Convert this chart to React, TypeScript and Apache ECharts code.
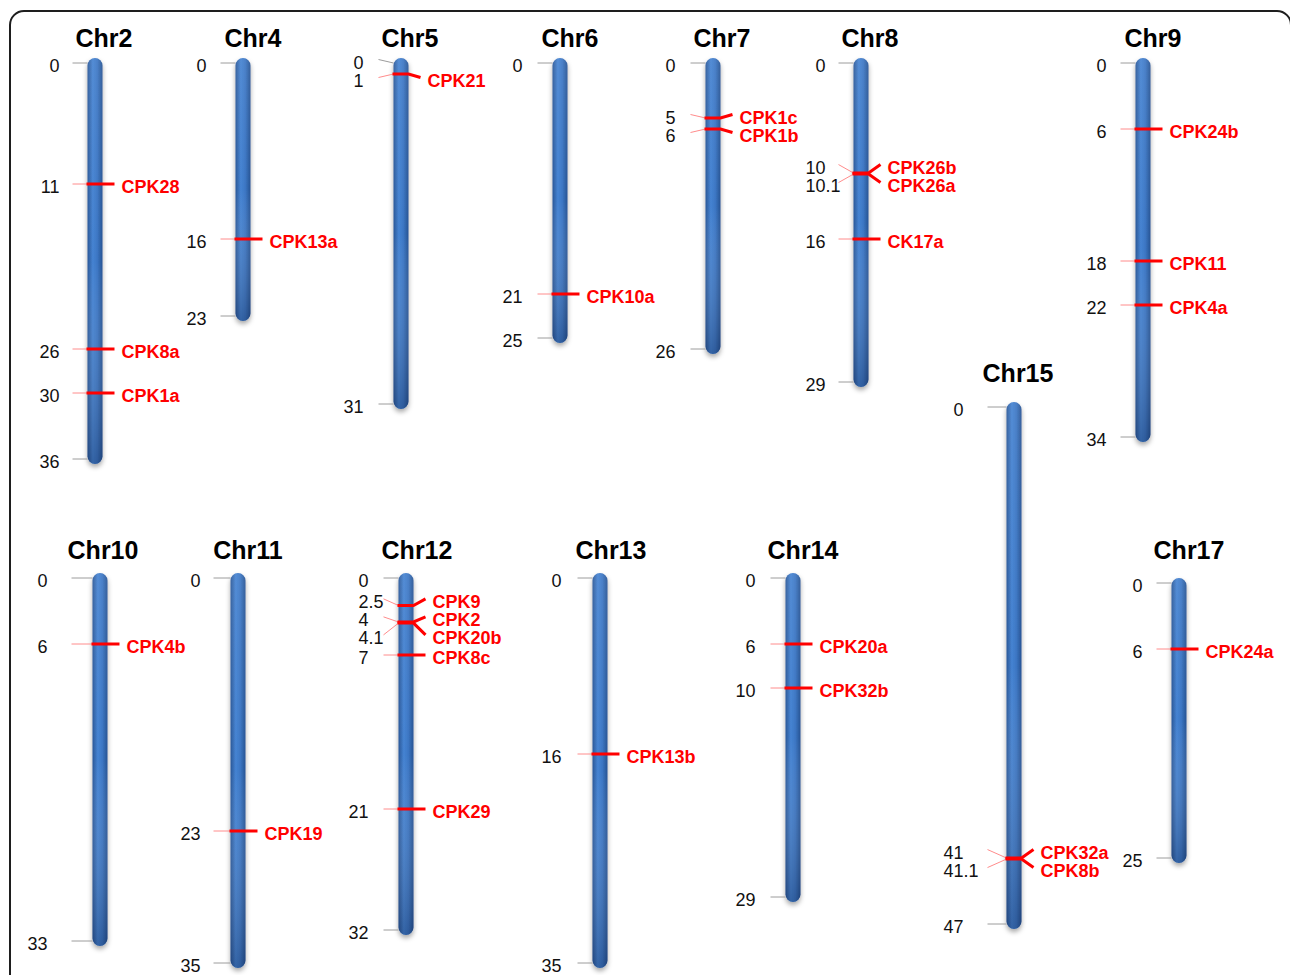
import React, { useEffect, useRef } from "react";
import * as echarts from "echarts";

// ---------- data ----------
const chromosomes = ["Chr2", "Chr4", "Chr5", "Chr6", "Chr7", "Chr8", "Chr9", "Chr10", "Chr11", "Chr12", "Chr13", "Chr14", "Chr15", "Chr17"];
const lengths = [36, 23, 31, 25, 26, 29, 34, 33, 35, 32, 35, 29, 47, 25];
const markerPositions: number[][] = [
  [11, 26, 30],
  [16],
  [1],
  [21],
  [5, 6],
  [10, 10.1, 16],
  [6, 18, 22],
  [6],
  [23],
  [2.5, 4, 4.1, 7, 21],
  [16],
  [6, 10],
  [41, 41.1],
  [6],
];
const markerNames: string[][] = [
  ["CPK28", "CPK8a", "CPK1a"],
  ["CPK13a"],
  ["CPK21"],
  ["CPK10a"],
  ["CPK1c", "CPK1b"],
  ["CPK26b", "CPK26a", "CK17a"],
  ["CPK24b", "CPK11", "CPK4a"],
  ["CPK4b"],
  ["CPK19"],
  ["CPK9", "CPK2", "CPK20b", "CPK8c", "CPK29"],
  ["CPK13b"],
  ["CPK20a", "CPK32b"],
  ["CPK32a", "CPK8b"],
  ["CPK24a"],
];

// ---------- layout ----------
const centerX = [95, 243, 401, 560, 713, 861, 1143, 100, 238, 406, 600, 793, 1014, 1179];
const zeroY = [63, 63, 63, 63, 63, 63, 63, 578, 578, 578, 578, 578, 407, 583];
const titleX = [104, 253, 410, 570, 722, 870, 1153, 103, 248, 417, 611, 803, 1018, 1189];
const titleY = [38, 38, 38, 38, 38, 38, 38, 550, 550, 550, 550, 550, 373, 550];
const numberGap = [28, 29, 30, 30, 30, 28, 29, 45, 30, 30, 31, 30, 43, 29];
const tickLen = [15, 15, 15, 15, 15, 15, 15, 21, 17, 15, 15, 15, 19, 15];
const PX_PER_UNIT = 11;
const BAR_W = 15;
const LABEL_GAP = 18;
const FONT = "'Liberation Sans', Arial, Helvetica, sans-serif";

type Tick = { pos: number; name: string; marker: boolean };

function buildTicks(i: number): Tick[] {
  const t: Tick[] = [{ pos: 0, name: "", marker: false }];
  markerPositions[i].forEach((p, k) => t.push({ pos: p, name: markerNames[i][k], marker: true }));
  t.push({ pos: lengths[i], name: "", marker: false });
  return t;
}

function spread(ys: number[], gap: number): number[] {
  type C = { ids: number[]; mean: number };
  const clusters: C[] = [];
  const span = (c: C) => ((c.ids.length - 1) / 2) * gap;
  ys.forEach((y, idx) => {
    clusters.push({ ids: [idx], mean: y });
    while (clusters.length > 1) {
      const b = clusters[clusters.length - 1];
      const a = clusters[clusters.length - 2];
      if (b.mean - span(b) - (a.mean + span(a)) < gap) {
        const ids = a.ids.concat(b.ids);
        const mean = ids.reduce((s, k) => s + ys[k], 0) / ids.length;
        clusters.splice(clusters.length - 2, 2, { ids, mean });
      } else break;
    }
  });
  const out: number[] = new Array(ys.length);
  clusters.forEach((c) => {
    const start = c.mean - span(c);
    c.ids.forEach((k, j) => (out[k] = start + j * gap));
  });
  return out;
}

export default function App() {
  const ref = useRef<HTMLDivElement>(null);
  useEffect(() => {
    if (!ref.current) return;
    const chart = echarts.init(ref.current, undefined, { renderer: "svg" });

    const grids: any[] = [];
    const xAxes: any[] = [];
    const yAxes: any[] = [];
    const series: any[] = [];

    chromosomes.forEach((name, i) => {
      const len = lengths[i];
      grids.push({
        left: centerX[i] - 20,
        width: 40,
        top: zeroY[i],
        height: len * PX_PER_UNIT,
        containLabel: false,
      });
      xAxes.push({ gridIndex: i, type: "value", min: -1, max: 1, show: false });
      yAxes.push({ gridIndex: i, type: "value", inverse: true, min: 0, max: len, show: false });

      series.push({
        type: "custom",
        name: name,
        xAxisIndex: i,
        yAxisIndex: i,
        clip: false,
        silent: true,
        z: 2,
        data: [[0, len]],
        renderItem: (params: any, api: any) => {
          const p0 = api.coord([0, 0]);
          const p1 = api.coord([0, api.value(1)]);
          const cx = p0[0];
          const shape = {
            x: cx - BAR_W / 2,
            y: p0[1] - 5,
            width: BAR_W,
            height: p1[1] - p0[1] + 10,
            r: BAR_W / 2,
          };
          return {
            type: "group",
            children: [
              {
                type: "rect",
                shape,
                style: {
                  fill: new echarts.graphic.LinearGradient(0, 0, 1, 0, [
                    { offset: 0, color: "#2a5697" },
                    { offset: 0.35, color: "#4583d2" },
                    { offset: 0.65, color: "#3b76c4" },
                    { offset: 1, color: "#285393" },
                  ]),
                  shadowBlur: 5,
                  shadowOffsetY: 3,
                  shadowColor: "rgba(0,0,0,0.35)",
                },
              },
              {
                type: "rect",
                shape,
                style: {
                  fill: new echarts.graphic.LinearGradient(0, 0, 0, 1, [
                    { offset: 0, color: "rgba(255,255,255,0.08)" },
                    { offset: 0.5, color: "rgba(255,255,255,0)" },
                    { offset: 1, color: "rgba(10,25,60,0.3)" },
                  ]),
                },
              },
              {
                type: "text",
                style: {
                  text: name,
                  x: titleX[i],
                  y: titleY[i],
                  align: "center",
                  verticalAlign: "middle",
                  fill: "#000",
                  font: `bold 25px ${FONT}`,
                },
              },
            ],
          };
        },
      });

      const ticks = buildTicks(i);
      series.push({
        type: "custom",
        name: name + " loci",
        xAxisIndex: i,
        yAxisIndex: i,
        clip: false,
        silent: true,
        z: 3,
        data: ticks.map((t) => ({ value: [0, t.pos], name: t.name })),
        renderItem: (params: any, api: any) => {
          const idx = params.dataIndex;
          const ys = ticks.map((t) => api.coord([0, t.pos])[1]);
          const lab = spread(ys, LABEL_GAP);
          const cx = api.coord([0, 0])[0];
          const bl = cx - BAR_W / 2;
          const br = cx + BAR_W / 2;
          const t = ticks[idx];
          const y = api.coord([0, api.value(1)])[1];
          const ly = lab[idx];
          const str = String(t.pos);
          const parts = str.split(".");
          const nx = bl - numberGap[i];
          const children: any[] = [
            {
              type: "line",
              shape: { x1: bl - tickLen[i], y1: ly, x2: bl, y2: y },
              style: { stroke: t.marker ? "#ff8c8c" : "#9c9c9c", lineWidth: 1 },
            },
            {
              type: "text",
              style: {
                text: parts[0],
                x: nx,
                y: ly + 3,
                align: "right",
                verticalAlign: "middle",
                fill: "#111",
                font: `18px ${FONT}`,
              },
            },
          ];
          if (parts.length > 1) {
            children.push({
              type: "text",
              style: {
                text: "." + parts[1],
                x: nx,
                y: ly + 3,
                align: "left",
                verticalAlign: "middle",
                fill: "#111",
                font: `18px ${FONT}`,
              },
            });
          }
          if (t.marker) {
            children.push({
              type: "polyline",
              shape: { points: [[bl - 1, y], [br, y], [br + 12, ly]] },
              style: { stroke: "#ff0000", lineWidth: 3, fill: "none" },
            });
            children.push({
              type: "text",
              style: {
                text: t.name,
                x: br + 19,
                y: ly + 3,
                align: "left",
                verticalAlign: "middle",
                fill: "#ff0000",
                font: `bold 18px ${FONT}`,
              },
            });
          }
          return { type: "group", children };
        },
      });
    });

    chart.setOption({
      animation: false,
      backgroundColor: "#ffffff",
      grid: grids,
      xAxis: xAxes,
      yAxis: yAxes,
      series,
      graphic: [
        {
          type: "rect",
          silent: true,
          z: -10,
          shape: { x: 10, y: 11, width: 1281, height: 1000, r: 14 },
          style: { fill: "none", stroke: "#1e1e1e", lineWidth: 2 },
        },
      ],
    });
    return () => chart.dispose();
  }, []);

  return (
    <div
      ref={ref}
      style={{ position: "absolute", left: 0, top: 0, width: 1290, height: 975 }}
    />
  );
}
